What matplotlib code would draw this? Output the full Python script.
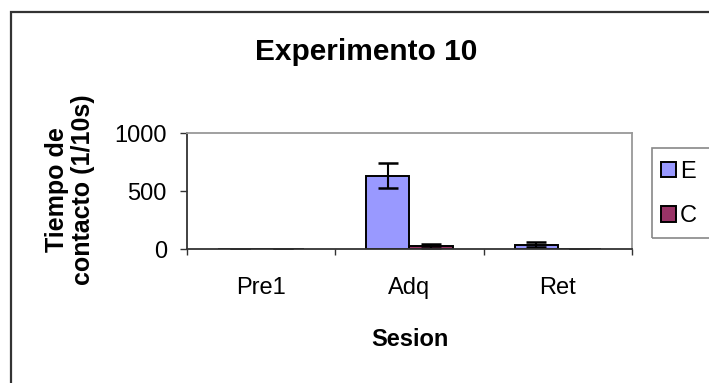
import matplotlib
matplotlib.use("Agg")
import matplotlib.pyplot as plt
from matplotlib.patches import Patch, Rectangle
import numpy as np

plt.rcParams['font.family'] = ['Liberation Sans', 'DejaVu Sans']

sessions = ["Pre1", "Adq", "Ret"]
e_values = [1, 630, 37]
e_errors = [1, 108, 23]
c_values = [1, 25, 0]
c_errors = [1, 15, 1]
series_names = ["E", "C"]
y_ticks = [0, 500, 1000]

W, H = 709, 383
fig = plt.figure(figsize=(W / 100, H / 100), dpi=100)

# chart frame
fig.patches.append(Rectangle((10.5 / W, -0.2), 2.0, 1 - 11.5 / H + 0.2,
                             transform=fig.transFigure, fill=False,
                             edgecolor="#333333", linewidth=1.6))

ax = fig.add_axes([187 / W, 1 - 249 / H, 445 / W, 116 / H])

x = np.arange(len(sessions))
bw = 0.29
err_kw = dict(ecolor="black", elinewidth=1.5, capsize=7, capthick=1.8)
ax.bar(x - bw / 2, e_values, bw, yerr=e_errors, color="#9999FF",
       edgecolor="black", linewidth=1.4, error_kw=err_kw, zorder=2)
ax.bar(x + bw / 2, c_values, bw, yerr=c_errors, color="#993366",
       edgecolor="black", linewidth=1.4, error_kw=err_kw, zorder=2)

ax.set_xlim(-0.5, len(sessions) - 0.5)
ax.set_ylim(0, 1000)
ax.set_yticks(y_ticks)
ax.set_yticklabels([str(v) for v in y_ticks], fontsize=17)

ax.set_xticks(np.arange(len(sessions) + 1) - 0.5)
ax.set_xticklabels([])
ax.set_xticks(x, minor=True)
ax.set_xticklabels(sessions, minor=True, fontsize=17)
ax.tick_params(axis="x", which="major", length=4.5, width=1, color="#333333")
ax.tick_params(axis="x", which="minor", length=0, pad=20)
ax.tick_params(axis="y", length=5, width=1, color="#333333", pad=9.5)

for side in ("top", "right"):
    ax.spines[side].set_color("#999999")
    ax.spines[side].set_linewidth(1.3)
for side in ("left", "bottom"):
    ax.spines[side].set_color("#333333")
    ax.spines[side].set_linewidth(1.3)

fig.text(366 / W, 1 - 52 / H, "Experimento 10", ha="center", va="center",
         fontsize=21.5, fontweight="bold")
fig.text(410 / W, 1 - 339 / H, "Sesion", ha="center", va="center",
         fontsize=17, fontweight="bold")
fig.text(70 / W, 1 - 190 / H, "Tiempo de\ncontacto (1/10s)", ha="center",
         va="center", rotation=90, multialignment="center",
         fontsize=18, fontweight="bold", linespacing=1.12)

# legend box
fig.patches.append(Rectangle((652 / W, 1 - 238 / H), 0.5, 90 / H,
                             transform=fig.transFigure, fill=False,
                             edgecolor="#888888", linewidth=1.2))
handles = [Patch(facecolor="#9999FF", edgecolor="black", linewidth=1.4),
           Patch(facecolor="#993366", edgecolor="black", linewidth=1.4)]
fig.legend(handles, series_names, loc="center left",
           bbox_to_anchor=(661 / W, 1 - 194 / H), frameon=False,
           fontsize=17, handlelength=0.65, handleheight=0.65,
           handletextpad=0.15, labelspacing=0.95, borderpad=0,
           borderaxespad=0)

fig.savefig("out.png", dpi=100)
